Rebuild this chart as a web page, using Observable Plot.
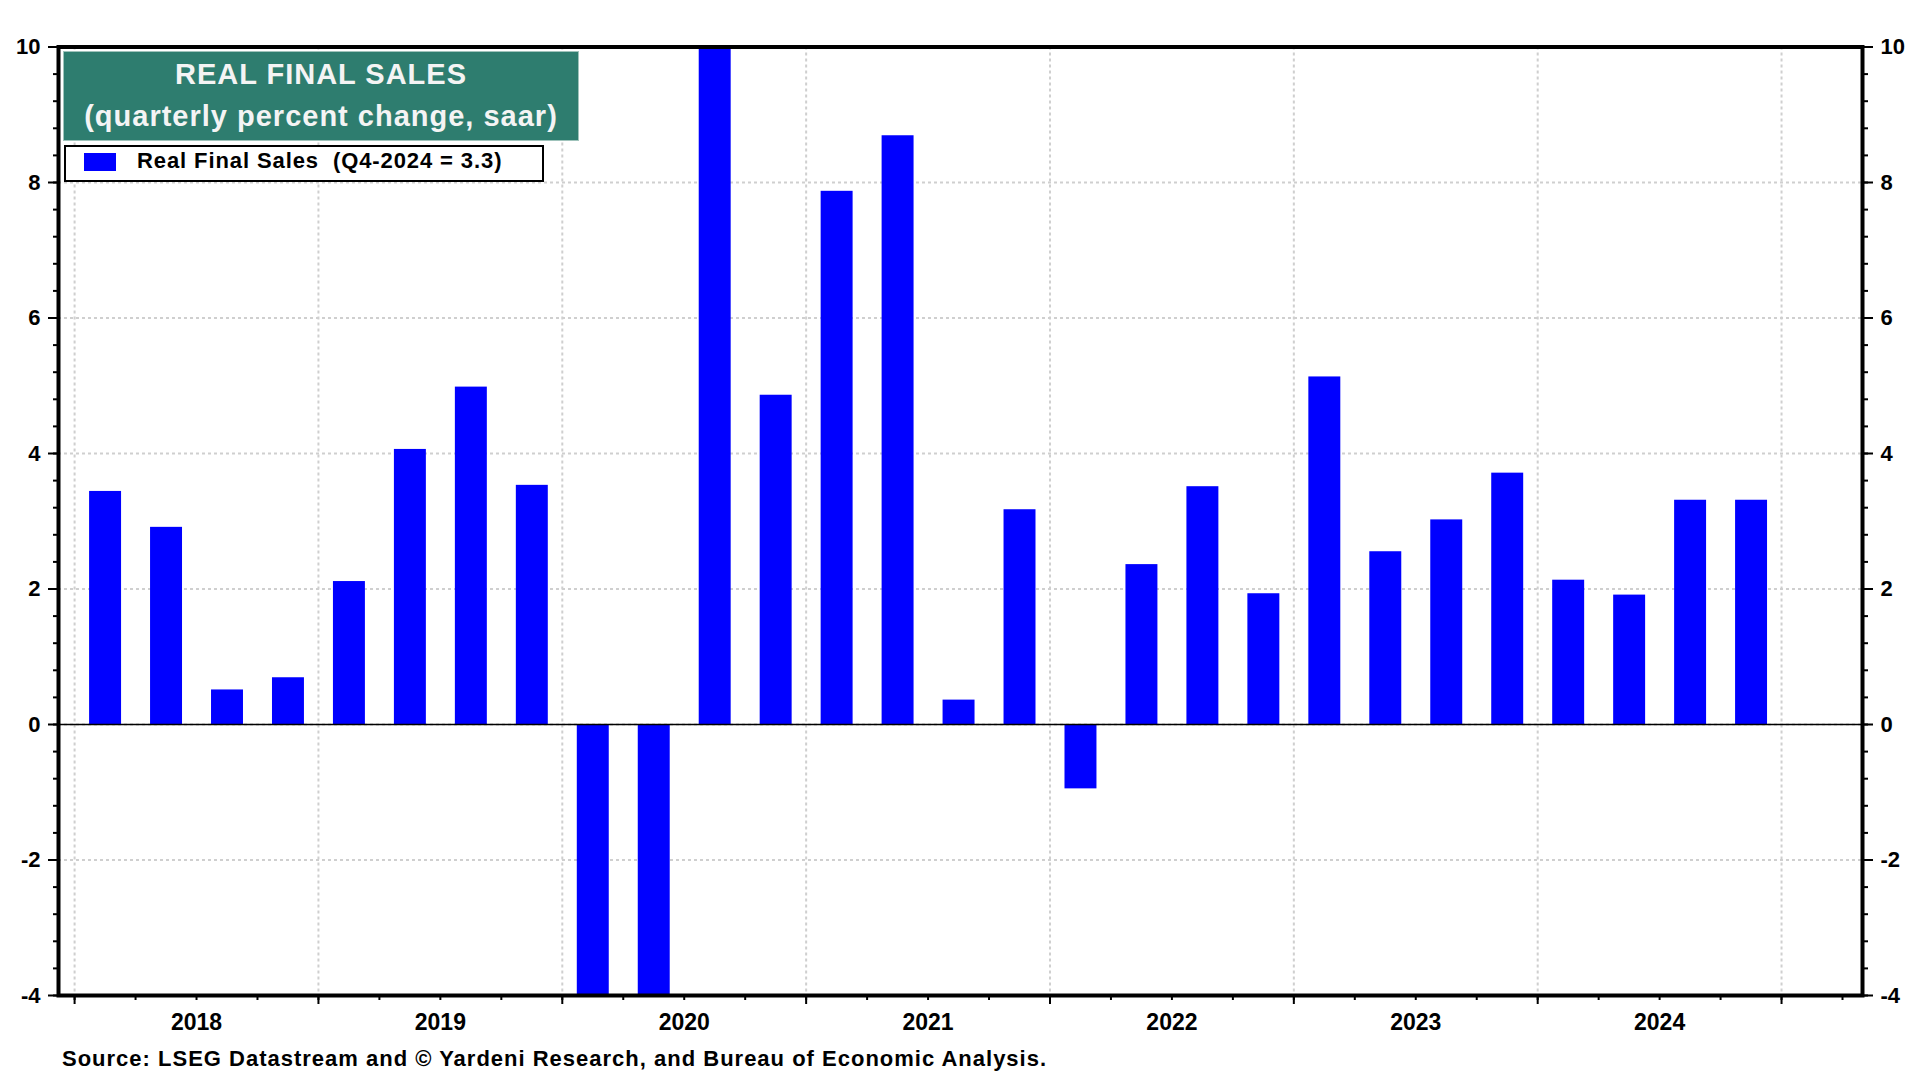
<!DOCTYPE html>
<html>
<head>
<meta charset="utf-8">
<script src="https://cdn.jsdelivr.net/npm/d3@7"></script>
<script src="https://cdn.jsdelivr.net/npm/@observablehq/plot@0.6"></script>
<style>
  html, body { margin: 0; padding: 0; background: #ffffff; }
  #wrap { position: relative; width: 1920px; height: 1080px; overflow: hidden; font-family: "Liberation Sans", Arial, sans-serif; font-weight: bold; }
  #chart { position: absolute; left: 0; top: 0; }
  .abs { position: absolute; white-space: pre; }
  #titlebox { position: absolute; left: 63px; top: 51px; width: 516px; height: 90px; background: #2e7d6f; border: 1px solid #9fc3bb; box-sizing: border-box; }
  .tline { position: absolute; left: 63px; width: 516px; text-align: center; color: #f4f4f4; font-size: 29px; line-height: 29px; letter-spacing: 1px; white-space: pre; }
  #legend { position: absolute; left: 64px; top: 145px; width: 480px; height: 37px; border: 2.5px solid #000; box-sizing: border-box; background: #fff; }
  #swatch { position: absolute; left: 84px; top: 153px; width: 32px; height: 18px; background: #0000ff; }
  #legtext { left: 137px; top: 150px; font-size: 22px; line-height: 22px; letter-spacing: 0.9px; color: #000; }
  #source { left: 62px; top: 1048px; font-size: 22px; line-height: 22px; letter-spacing: 1px; color: #000; }
</style>
</head>
<body>
<div id="wrap">
  <div id="chart"></div>
  <div id="titlebox"></div>
  <div class="tline" style="top:60px">REAL FINAL SALES</div>
  <div class="tline" style="top:102px">(quarterly percent change, saar)</div>
  <div id="legend"></div>
  <div id="swatch"></div>
  <div class="abs" id="legtext">Real Final Sales  (Q4-2024 = 3.3)</div>
  <div class="abs" id="source">Source: LSEG Datastream and © Yardeni Research, and Bureau of Economic Analysis.</div>
</div>
<script>
// Quarters and values (quarterly percent change, saar)
const quarters = [
  "2018Q1","2018Q2","2018Q3","2018Q4",
  "2019Q1","2019Q2","2019Q3","2019Q4",
  "2020Q1","2020Q2","2020Q3","2020Q4",
  "2021Q1","2021Q2","2021Q3","2021Q4",
  "2022Q1","2022Q2","2022Q3","2022Q4",
  "2023Q1","2023Q2","2023Q3","2023Q4",
  "2024Q1","2024Q2","2024Q3","2024Q4"
];
const values = [
  3.44, 2.91, 0.51, 0.69,
  2.11, 4.06, 4.98, 3.53,
  -5.2, -28.9, 27.1, 4.86,
  7.87, 8.69, 0.36, 3.17,
  -0.95, 2.36, 3.51, 1.93,
  5.13, 2.55, 3.02, 3.71,
  2.13, 1.91, 3.31, 3.31
];
const yearLabels = ["2018","2019","2020","2021","2022","2023","2024"];
const yearStarts = [2018, 2019, 2020, 2021, 2022, 2023, 2024, 2025];
const yMajor = [-4, -2, 0, 2, 4, 6, 8, 10];
const yGrid = [-2, 0, 2, 4, 6, 8];

const data = quarters.map((q, i) => {
  const start = +q.slice(0, 4) + (+q.slice(5) - 1) * 0.25;
  return { quarter: q, start, end: start + 0.25, value: values[i] };
});
const yMinor = d3.range(0, 36).map(k => Math.round((-4 + 0.4 * k) * 10) / 10);
const quarterStarts = d3.range(2018, 2025.3, 0.25);
const yearMids = yearLabels.map(y => +y + 0.5);
const fmtY = d => String(d);

const chart = Plot.plot({
  width: 1920,
  height: 1080,
  marginLeft: 58,
  marginRight: 58,
  marginTop: 46.5,
  marginBottom: 85,
  style: { fontFamily: "'Liberation Sans', Arial, sans-serif", fontWeight: "bold", fontSize: "22px", color: "#000", background: "transparent", overflow: "visible" },
  x: { domain: [2017.934, 2025.332], axis: null },
  y: { domain: [-4, 10], axis: null },
  marks: [
    Plot.ruleY(yGrid, { stroke: "#cfcfcf", strokeWidth: 2, strokeDasharray: "3,3" }),
    Plot.ruleX(yearStarts, { stroke: "#cfcfcf", strokeWidth: 2, strokeDasharray: "3,3" }),
    Plot.rectY(data, { x1: "start", x2: "end", y: "value", fill: "#0000ff", insetLeft: 15, insetRight: 14, clip: true }),
    Plot.ruleY([0], { stroke: "#000", strokeWidth: 1.5 }),
    Plot.axisY(yMajor, { anchor: "left", tickSize: 10, tickPadding: 8, strokeWidth: 2, fontSize: 22, fontWeight: "bold", tickFormat: fmtY, label: null }),
    Plot.axisY(yMinor, { anchor: "left", tickSize: 5, strokeWidth: 2, text: null, label: null }),
    Plot.axisY(yMajor, { anchor: "right", tickSize: 10, tickPadding: 8, strokeWidth: 2, fontSize: 22, fontWeight: "bold", tickFormat: fmtY, label: null }),
    Plot.axisY(yMinor, { anchor: "right", tickSize: 5, strokeWidth: 2, text: null, label: null }),
    Plot.axisX(yearStarts, { anchor: "bottom", tickSize: 9, strokeWidth: 2, text: null, label: null }),
    Plot.axisX(quarterStarts, { anchor: "bottom", tickSize: 5, strokeWidth: 2, text: null, label: null }),
    Plot.axisX(yearMids, { anchor: "bottom", tickSize: 0, tickPadding: 18, fontSize: 23, fontWeight: "bold", tickFormat: d => String(Math.floor(d)), label: null }),
    Plot.frame({ stroke: "#000", strokeWidth: 4 })
  ]
});
document.getElementById("chart").appendChild(chart);
</script>
</body>
</html>
